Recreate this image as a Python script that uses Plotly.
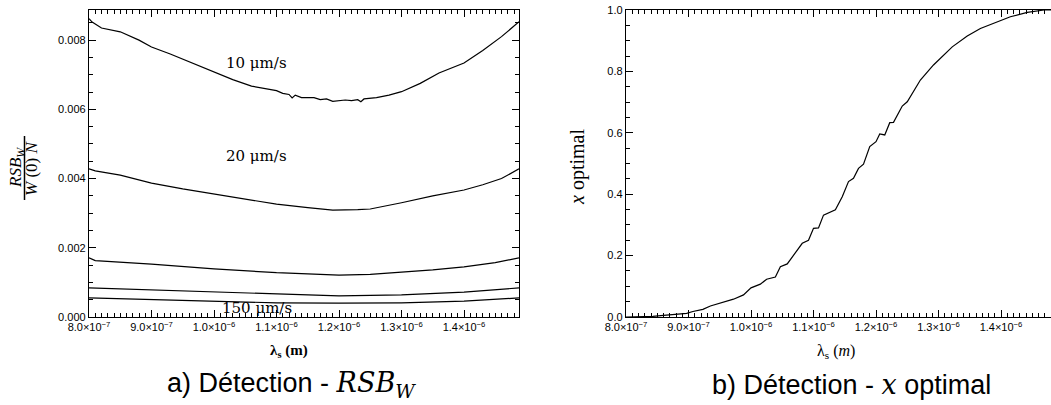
import plotly.graph_objects as go

# ---------------- data (wavelength in micrometres, converted to metres) ----------------
lam_10 = [0.800, 0.805, 0.82, 0.85, 0.88, 0.90, 0.93, 0.96, 1.00, 1.03, 1.06, 1.08, 1.10, 1.11,
          1.12, 1.125, 1.13, 1.14, 1.15, 1.16, 1.17, 1.18, 1.19, 1.20, 1.21, 1.22, 1.23, 1.235,
          1.24, 1.26, 1.28, 1.30, 1.33, 1.36, 1.40, 1.43, 1.46, 1.488]
rsb_10 = [0.00862, 0.00852, 0.00835, 0.00824, 0.00800, 0.00780, 0.00760, 0.00738, 0.00708,
          0.00686, 0.00667, 0.00660, 0.00654, 0.00646, 0.00643, 0.00633, 0.00641, 0.00634,
          0.00633, 0.00634, 0.00628, 0.00630, 0.00623, 0.00625, 0.00627, 0.00625, 0.00628,
          0.00622, 0.00630, 0.00634, 0.00641, 0.00651, 0.00675, 0.00705, 0.00734, 0.00770,
          0.00810, 0.00853]

lam_20 = [0.800, 0.81, 0.85, 0.90, 0.95, 1.00, 1.05, 1.10, 1.15, 1.19, 1.23, 1.25, 1.30, 1.35,
          1.40, 1.43, 1.46, 1.488]
rsb_20 = [0.00428, 0.00422, 0.00410, 0.00387, 0.00370, 0.00355, 0.00339, 0.00326, 0.00316,
          0.00309, 0.00310, 0.00312, 0.00330, 0.00350, 0.00367, 0.00382, 0.00400, 0.00428]

lam_c3 = [0.800, 0.81, 0.90, 1.00, 1.10, 1.15, 1.20, 1.25, 1.30, 1.35, 1.40, 1.45, 1.488]
rsb_c3 = [0.00171, 0.00163, 0.00153, 0.00139, 0.00128, 0.00124, 0.00121, 0.00123, 0.00129,
          0.00136, 0.00145, 0.00157, 0.00171]

lam_c4 = [0.800, 0.90, 1.00, 1.10, 1.20, 1.30, 1.40, 1.488]
rsb_c4 = [0.00084, 0.00078, 0.00071, 0.00066, 0.00061, 0.00064, 0.00072, 0.00084]

lam_150 = [0.800, 0.90, 1.00, 1.10, 1.20, 1.30, 1.40, 1.488]
rsb_150 = [0.00055, 0.00050, 0.00045, 0.00041, 0.00040, 0.00041, 0.00046, 0.00055]

lam_x = [0.800, 0.82, 0.843, 0.860, 0.881, 0.897, 0.907, 0.923, 0.935, 0.951, 0.972, 0.988,
         1.000, 1.015, 1.025, 1.039, 1.047, 1.058, 1.068, 1.082, 1.092, 1.100, 1.108, 1.116,
         1.135, 1.146, 1.156, 1.164, 1.172, 1.180, 1.190, 1.200, 1.206, 1.214, 1.222, 1.228,
         1.242, 1.250, 1.271, 1.292, 1.322, 1.346, 1.367, 1.389, 1.415, 1.442, 1.469, 1.49]
x_opt = [0.0, 0.0005, 0.002, 0.005, 0.010, 0.012, 0.018, 0.025, 0.036, 0.045, 0.058, 0.072,
         0.095, 0.107, 0.123, 0.130, 0.164, 0.173, 0.200, 0.240, 0.250, 0.289, 0.290, 0.332,
         0.349, 0.392, 0.441, 0.452, 0.484, 0.498, 0.555, 0.571, 0.596, 0.593, 0.633, 0.634,
         0.687, 0.701, 0.772, 0.821, 0.880, 0.915, 0.940, 0.958, 0.978, 0.992, 1.0, 1.0]

x_tick_vals_um = [0.8, 0.9, 1.0, 1.1, 1.2, 1.3, 1.4]
x_tick_text = ["8.0×10<sup>−7</sup>", "9.0×10<sup>−7</sup>", "1.0×10<sup>−6</sup>",
               "1.1×10<sup>−6</sup>", "1.2×10<sup>−6</sup>", "1.3×10<sup>−6</sup>",
               "1.4×10<sup>−6</sup>"]
y1_tick_vals = [0.000, 0.002, 0.004, 0.006, 0.008]
y1_tick_text = ["0.000", "0.002", "0.004", "0.006", "0.008"]
y2_tick_vals = [0.0, 0.2, 0.4, 0.6, 0.8, 1.0]
y2_tick_text = ["0.0", "0.2", "0.4", "0.6", "0.8", "1.0"]

curve_labels = ["10 μm/s", "20 μm/s", "150 μm/s"]

# ---------------- figure ----------------
W, H = 1051, 405
um = 1e-6


def m(vals):
    return [v * um for v in vals]


fig = go.Figure()
line = dict(color="black", width=1.2)
for lx, ly in [(lam_10, rsb_10), (lam_20, rsb_20), (lam_c3, rsb_c3), (lam_c4, rsb_c4),
               (lam_150, rsb_150)]:
    fig.add_trace(go.Scatter(x=m(lx), y=ly, mode="lines", line=line, xaxis="x", yaxis="y",
                             showlegend=False, hoverinfo="skip"))
fig.add_trace(go.Scatter(x=m(lam_x), y=x_opt, mode="lines", line=line, xaxis="x2", yaxis="y2",
                         showlegend=False, hoverinfo="skip"))

tickfont = dict(family="Liberation Sans, Arial, sans-serif", size=11, color="black")
ytickfont = dict(family="Liberation Sans, Arial, sans-serif", size=11, color="black")
xminor = dict(ticks="inside", ticklen=3.5, tickcolor="black", tickwidth=1,
              tickmode="linear", tick0=8e-7, dtick=1e-8, showgrid=False)

common_x = dict(tickvals=m(x_tick_vals_um), ticktext=x_tick_text, ticks="inside", ticklen=7,
                tickwidth=1, tickcolor="black", showline=True, linecolor="black", linewidth=1.3,
                showgrid=False, zeroline=False, tickfont=tickfont, minor=xminor,
                automargin=False)

y_top = 1 - 10 / H
y_bot = 1 - 317 / H

fig.update_layout(
    width=W, height=H, margin=dict(l=0, r=0, t=0, b=0, autoexpand=False),
    paper_bgcolor="white", plot_bgcolor="white", showlegend=False,
    xaxis=dict(domain=[89 / W, 519 / W], range=[8e-7, 1.488e-6], mirror="ticks",
               anchor="y", **common_x),
    yaxis=dict(domain=[y_bot, y_top], range=[0, 0.00887], tickvals=y1_tick_vals,
               ticktext=y1_tick_text, ticks="inside", ticklen=7, tickwidth=1,
               tickcolor="black", showline=True, linecolor="black", linewidth=1.3,
               mirror="ticks", showgrid=False, zeroline=False, tickfont=ytickfont,
               anchor="x", automargin=False,
               minor=dict(ticks="inside", ticklen=3.5, tickcolor="black", tickwidth=1,
                          tickmode="linear", tick0=0, dtick=0.0005, showgrid=False)),
    xaxis2=dict(domain=[626 / W, 1.0], range=[8e-7, 1.48e-6], mirror="ticks", anchor="y2",
                **common_x),
    yaxis2=dict(domain=[y_bot, y_top], range=[0, 1.0], tickvals=y2_tick_vals,
                ticktext=y2_tick_text, ticks="inside", ticklen=7, tickwidth=1,
                tickcolor="black", showline=True, linecolor="black", linewidth=1.3,
                mirror=False, showgrid=False, zeroline=False, tickfont=ytickfont,
                anchor="x2", automargin=False,
                minor=dict(ticks="inside", ticklen=3.5, tickcolor="black", tickwidth=1,
                           tickmode="linear", tick0=0, dtick=0.05, showgrid=False)),
)

serif = "Liberation Serif, Times New Roman, serif"
dserif = "DejaVu Serif, serif"
sans = "Liberation Sans, Arial, sans-serif"


def px(xp, yp, text, size, family, angle=0, xanchor="center", yanchor="middle"):
    fig.add_annotation(x=xp / W, y=1 - yp / H, xref="paper", yref="paper", text=text,
                       showarrow=False, font=dict(family=family, size=size, color="black"),
                       textangle=angle, xanchor=xanchor, yanchor=yanchor)


# curve labels
px(256, 63, curve_labels[0], 15, dserif)
px(256, 156, curve_labels[1], 15, dserif)
px(257, 308, curve_labels[2], 15, dserif)

# left y title as fraction
px(17, 168, "<i>RSB<sub>W</sub></i>", 17, serif, angle=-90)
px(32, 168, "<i>W</i> (0) <i>N</i>", 17, serif, angle=-90)
fig.add_shape(type="line", xref="paper", yref="paper", x0=24.5 / W, x1=24.5 / W,
              y0=1 - 136 / H, y1=1 - 200 / H, line=dict(color="black", width=1.5))

# right y title
px(577, 167, "<i>x</i> optimal", 20, serif, angle=-90)

# x titles
px(289, 351, "<b>λ<sub>s</sub> (m)</b>", 15, serif)
px(836, 351, "λ<sub>s</sub> (<i>m</i>)", 16, serif)

# captions
px(291, 384, "a) Détection - <span style='font-family:DejaVu Serif'><i>RSB<sub>W</sub></i></span>",
   27, sans)
px(851, 384, "b) Détection - <span style='font-family:DejaVu Serif'><i>x</i></span> optimal",
   27, sans)

fig.write_html("out.html")
